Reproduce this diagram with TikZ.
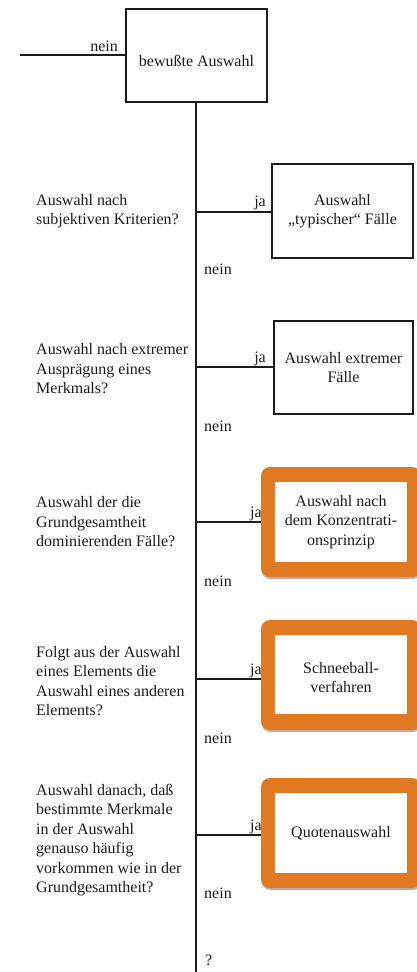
\documentclass[tikz,border=0pt]{standalone}
\usepackage{fontspec}
\setmainfont{Liberation Serif}
\usetikzlibrary{shadows}
\definecolor{ink}{RGB}{28,28,28}
\definecolor{hlorange}{RGB}{225,120,34}
\tikzset{
  txt/.style={font={\fontsize{16}{19.5}\selectfont}, text=ink, inner sep=0pt},
  question/.style={txt, align=left, anchor=west},
  outcome/.style={txt, draw=ink, line width=1.5pt, align=center, fill=white},
  hlframe/.style={fill=hlorange, rounded corners=9pt, minimum width=160pt,
    minimum height=110pt, inner sep=0pt,
    drop shadow={shadow xshift=0.5pt, shadow yshift=-2pt, opacity=0.3, fill=black}},
  hlbox/.style={txt, fill=white, align=center, minimum width=132pt, minimum height=80pt},
  answer/.style={txt},
  link/.style={draw=ink, line width=1.4pt}
}
\begin{document}
\begin{tikzpicture}[x=1pt, y=-1pt]
  \fill[white] (0,0) rectangle (416,972);
  \useasboundingbox (0,0) rectangle (416,972);

  % start box and incoming branch
  \node[outcome, minimum width=141pt, minimum height=93pt] (start) at (196.5,55.5) {\raisebox{-11pt}[0pt][0pt]{bewußte Auswahl}};
  \coordinate (entry) at (20,55);
  \draw[link] (entry) -- (entry -| start.west);
  \node[answer, anchor=base east] (nein0) at (118,51) {nein};

  % main trunk
  \coordinate (trunkend) at (196,972);
  \draw[link] (start.south -| trunkend) -- (trunkend);

  % branch 1
  \node[question] (q1) at (36,211) {Auswahl nach\\subjektiven Kriterien?};
  \node[outcome, minimum width=141pt, minimum height=94pt] (r1) at (342.5,211) {Auswahl\\„typischer“ Fälle};
  \coordinate (b1) at (196,212);
  \draw[link] (b1) -- (b1 -| r1.west);
  \node[answer, anchor=base east] (ja1) at (266,206) {ja};
  \node[answer, anchor=base west] (n1) at (204,274) {nein};

  % branch 2
  \node[question] (q2) at (36,369) {Auswahl nach extremer\\Ausprägung eines\\Merkmals?};
  \node[outcome, minimum width=139pt, minimum height=93pt] (r2) at (343.5,367.5) {Auswahl extremer\\Fälle};
  \coordinate (b2) at (196,367);
  \draw[link] (b2) -- (b2 -| r2.west);
  \node[answer, anchor=base east] (ja2) at (266,362) {ja};
  \node[answer, anchor=base west] (n2) at (204,431) {nein};

  % branch 3
  \node[question] (q3) at (36,522) {Auswahl der die\\Grundgesamtheit\\dominierenden Fälle?};
  \coordinate (b3) at (196,522);
  \node[answer, anchor=base west] (ja3) at (250,517) {ja};
  \node[hlframe] (f3) at (341,522) {};
  \node[hlbox] (r3) at (341,522) {Auswahl nach\\dem Konzentrati-\\onsprinzip};
  \draw[link] (b3) -- (b3 -| f3.west);
  \node[answer, anchor=base west] (n3) at (204,586) {nein};

  % branch 4
  \node[question] (q4) at (36,681) {Folgt aus der Auswahl\\eines Elements die\\Auswahl eines anderen\\Elements?};
  \coordinate (b4) at (196,679);
  \node[answer, anchor=base west] (ja4) at (250,674) {ja};
  \node[hlframe] (f4) at (341,675) {};
  \node[hlbox, minimum height=79pt] (r4) at (341,674.5) {\raisebox{-9pt}[0pt][0pt]{\begin{tabular}{@{}c@{}}Schneeball-\\verfahren\end{tabular}}};
  \draw[link] (b4) -- (b4 -| f4.west);
  \node[answer, anchor=base west] (n4) at (204,743) {nein};

  % branch 5
  \node[question] (q5) at (36,840) {Auswahl danach, daß\\bestimmte Merkmale\\in der Auswahl\\genauso häufig\\vorkommen wie in der\\Grundgesamtheit?};
  \coordinate (b5) at (196,835);
  \node[answer, anchor=base west] (ja5) at (250,830) {ja};
  \node[hlframe] (f5) at (341,833) {};
  \node[hlbox] (r5) at (341,833) {Quotenauswahl};
  \draw[link] (b5) -- (b5 -| f5.west);
  \node[answer, anchor=base west] (n5) at (204,898) {nein};

  % open end
  \node[answer, anchor=base west] (open) at (205,965) {?};
\end{tikzpicture}
\end{document}
